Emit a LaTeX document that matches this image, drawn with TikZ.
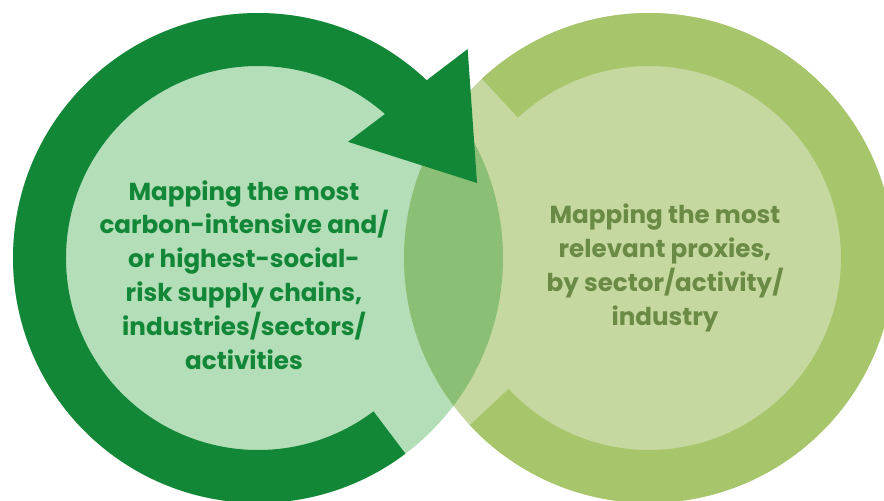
\documentclass[tikz,border=0pt]{standalone}
\usepackage{fontspec}
\setmainfont{Poppins}
\usepackage{tikz}
\usetikzlibrary{calc}

\definecolor{leftring}{HTML}{138738}
\definecolor{leftlight}{HTML}{B4DEB8}
\definecolor{overlap}{HTML}{8BBF75}
\definecolor{rightlight}{HTML}{C5D89F}
\definecolor{rightring}{HTML}{A7C56B}
\definecolor{righttext}{HTML}{6B8A46}

\tikzset{
  blurb/.style={align=center, inner sep=0pt, font=\fontsize{17.5}{24.1}\selectfont\bfseries},
}

\begin{document}
\begin{tikzpicture}[x=0.025cm,y=0.025cm]
\useasboundingbox (0,0) rectangle (884,501);
\coordinate (L) at (258,243); % left centre
\coordinate (R) at (649,243); % right centre
% discs
\fill[leftlight] (L) circle[radius=245];
\fill[rightlight] (R) circle[radius=245];
\begin{scope}
  \clip (L) circle[radius=245];
  \fill[overlap] (R) circle[radius=245]; % lens
\end{scope}
% right ring
\fill[rightring] ($(R)+(-137:245)$) arc[start angle=-137,end angle=133,radius=245]
  -- ($(R)+(133:192)$) arc[start angle=133,end angle=-137,radius=192] -- cycle;
% left ring with arrow head
\fill[leftring] ($(L)+(46.5:245)$) arc[start angle=46.5,end angle=307,radius=245]
  -- ($(L)+(307:192)$) arc[start angle=307,end angle=48.6,radius=192]
  -- ($(L)+(52.2:147)$) -- ($(L)+(18.9:231.5)$) -- ($(L)+(44.9:296)$) -- cycle;
% texts
\node[blurb, text=leftring] (carbon) at (244,226)
  {Mapping the most\\carbon-intensive and/\\or highest-social-\\risk supply chains,\\industries/sectors/\\activities};
\node[blurb, text=righttext] (proxies) at (665,233)
  {Mapping the most\\relevant proxies,\\by sector/activity/\\industry};
\end{tikzpicture}
\end{document}
